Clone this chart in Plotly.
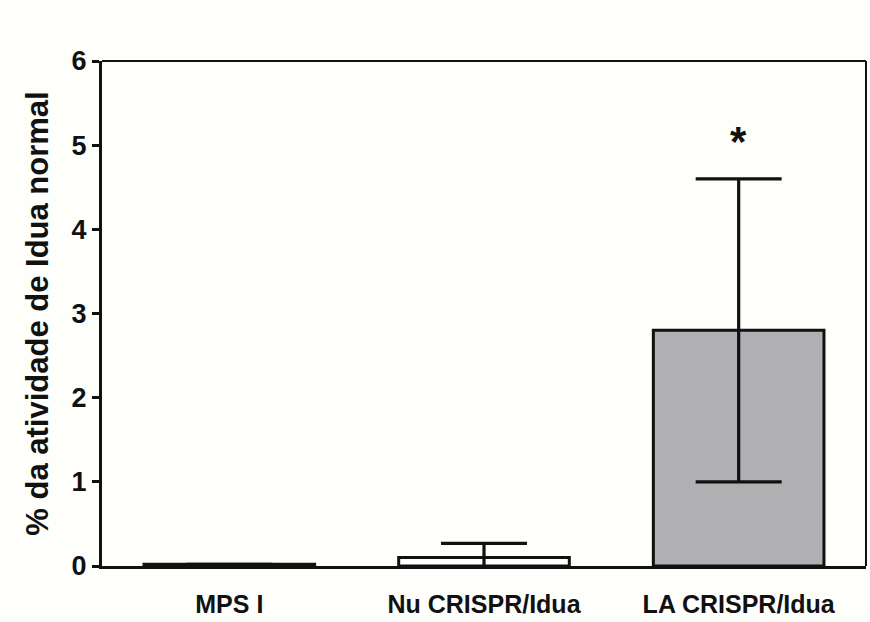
import plotly.graph_objects as go

# Idua activity (% of normal) per group, mean and SD
groups = ["MPS I", "Nu CRISPR/Idua", "LA CRISPR/Idua"]
means = [0.02, 0.1, 2.8]
sds = [0.0, 0.17, 1.8]
fills = ["#ffffff", "#ffffff", "#b0b0b2"]
y_ticks = [0, 1, 2, 3, 4, 5, 6]

font_family = "Liberation Sans, Arial, sans-serif"

fig = go.Figure()
fig.add_trace(go.Bar(
    x=groups,
    y=means,
    width=0.67,
    marker=dict(color=fills, line=dict(color="#111111", width=3)),
    error_y=dict(type="data", array=sds, visible=True,
                 color="#111111", thickness=3.2, width=43),
    showlegend=False,
))

# significance marker above the LA group
fig.add_annotation(x=groups[2], y=means[2] + sds[2], yshift=37,
                   text="<b>*</b>", showarrow=False,
                   font=dict(size=42, color="#111111", family=font_family))

# thin top and right frame lines
fig.add_shape(type="line", xref="paper", yref="paper", x0=0, x1=1, y0=1, y1=1,
              line=dict(color="#111111", width=2))
fig.add_shape(type="line", xref="paper", yref="paper", x0=1, x1=1, y0=0, y1=1,
              line=dict(color="#111111", width=2))

fig.update_layout(
    width=870, height=622,
    margin=dict(l=102, r=4, t=61, b=56),
    paper_bgcolor="#fefefb",
    plot_bgcolor="#fefefb",
    font=dict(family=font_family, color="#111111"),
    bargap=0.33,
    xaxis=dict(
        range=[-0.5, 2.5],
        showline=True, linecolor="#111111", linewidth=3,
        ticks="", showgrid=False,
        tickfont=dict(size=25, family=font_family),
        ticklabelstandoff=14,
        tickprefix="<b>", ticksuffix="</b>",
    ),
    yaxis=dict(
        range=[0, 6],
        tickvals=y_ticks,
        ticktext=[f"<b>{v}</b>" for v in y_ticks],
        showline=True, linecolor="#111111", linewidth=3,
        ticks="outside", ticklen=7, tickwidth=3, tickcolor="#111111",
        showgrid=False, zeroline=False,
        tickfont=dict(size=27, family=font_family),
        title=dict(text="<b>% da atividade de Idua normal</b>",
                   font=dict(size=31, family=font_family), standoff=14),
    ),
)

fig.write_html("out.html")
